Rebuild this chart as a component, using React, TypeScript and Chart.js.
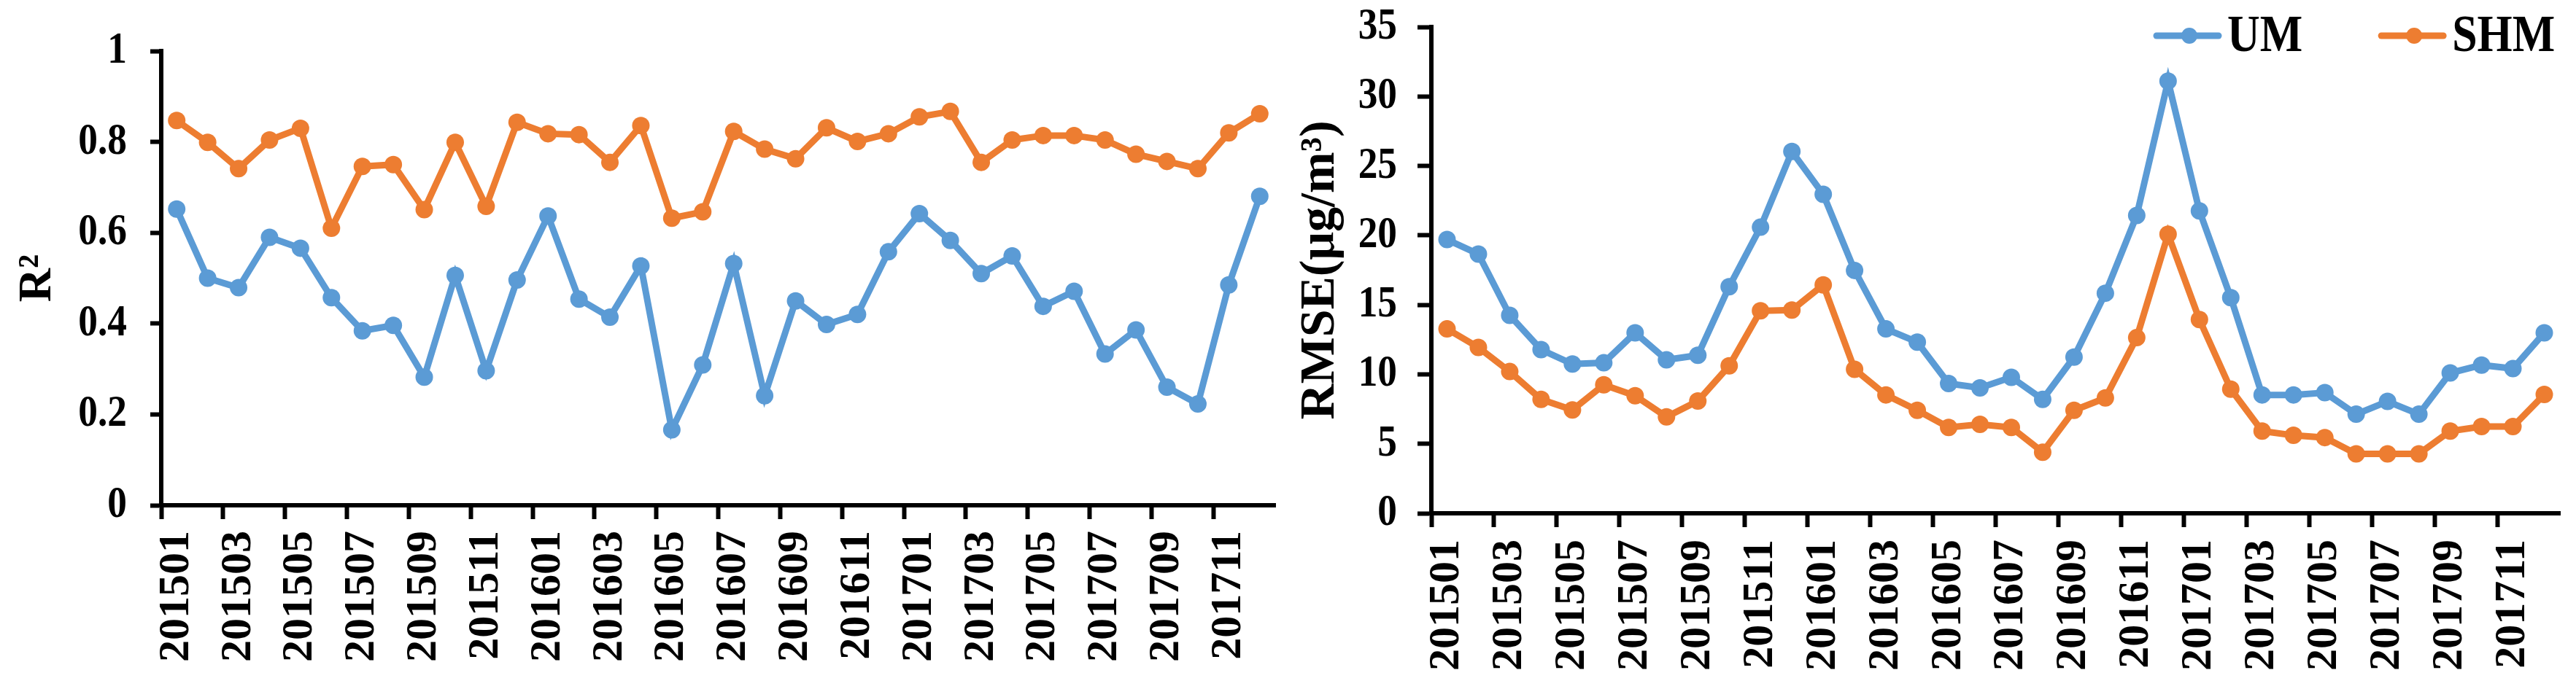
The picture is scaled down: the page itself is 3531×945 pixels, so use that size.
import React, { useEffect, useRef } from 'react';
import { Chart, registerables } from 'chart.js';

Chart.register(...registerables);

// ---------- data ----------
const months: string[] = [
  '201501', '201502', '201503', '201504', '201505', '201506',
  '201507', '201508', '201509', '201510', '201511', '201512',
  '201601', '201602', '201603', '201604', '201605', '201606',
  '201607', '201608', '201609', '201610', '201611', '201612',
  '201701', '201702', '201703', '201704', '201705', '201706',
  '201707', '201708', '201709', '201710', '201711', '201712',
];

const seriesNames: string[] = ['UM', 'SHM'];

const r2UM: number[] = [
  0.652, 0.5, 0.479, 0.59, 0.566, 0.457, 0.384, 0.396, 0.282, 0.506, 0.296, 0.496,
  0.637, 0.454, 0.414, 0.527, 0.166, 0.309, 0.532, 0.241, 0.45, 0.398, 0.42, 0.558,
  0.642, 0.583, 0.51, 0.549, 0.438, 0.471, 0.333, 0.386, 0.26, 0.223, 0.485, 0.68,
];
const r2SHM: number[] = [
  0.847, 0.799, 0.741, 0.804, 0.83, 0.61, 0.746, 0.75, 0.651, 0.799, 0.658, 0.843,
  0.818, 0.816, 0.755, 0.836, 0.632, 0.646, 0.823, 0.784, 0.763, 0.831, 0.801, 0.818,
  0.855, 0.867, 0.755, 0.804, 0.814, 0.814, 0.804, 0.773, 0.757, 0.741, 0.82, 0.862,
];

const rmseUM: number[] = [
  19.7, 18.66, 14.25, 11.78, 10.74, 10.83, 12.99, 11.05, 11.37, 16.31, 20.59, 26.04,
  22.96, 17.48, 13.27, 12.32, 9.34, 9.03, 9.79, 8.2, 11.24, 15.84, 21.44, 31.1,
  21.76, 15.52, 8.52, 8.52, 8.68, 7.13, 8.05, 7.13, 10.1, 10.67, 10.42, 12.99,
];
const rmseSHM: number[] = [
  13.27, 11.94, 10.2, 8.2, 7.44, 9.25, 8.46, 6.94, 8.08, 10.61, 14.57, 14.63,
  16.44, 10.36, 8.52, 7.41, 6.18, 6.4, 6.18, 4.4, 7.41, 8.3, 12.64, 20.08,
  13.94, 8.93, 5.92, 5.61, 5.45, 4.28, 4.28, 4.28, 5.92, 6.24, 6.24, 8.55,
];

// ---------- styling ----------
const FONT = '"Liberation Serif", "Times New Roman", serif';
const BLUE = '#5B9BD5';
const ORANGE = '#ED7D31';
const COLORS = [BLUE, ORANGE];
const SQUISH = 0.86; // narrow the horizontal (unrotated) text like the reference

// Horizontally condense unrotated text, keeping each text anchor fixed.
const condensePlugin = {
  id: 'condenseText',
  beforeDraw(chart: any) {
    const ctx = chart.ctx as any;
    if (ctx.__condensed) return;
    ctx.__condensed = true;
    const orig = ctx.fillText;
    ctx.fillText = function (text: string, x: number, y: number, maxWidth?: number) {
      const m = ctx.getTransform();
      if (Math.abs(m.b) < 1e-6 && Math.abs(m.c) < 1e-6) {
        const px = m.a * x + m.e;
        ctx.save();
        ctx.setTransform(m.a * SQUISH, 0, 0, m.d, SQUISH * m.e + px * (1 - SQUISH), m.f);
        if (maxWidth === undefined) orig.call(ctx, text, x, y);
        else orig.call(ctx, text, x, y, maxWidth);
        ctx.restore();
      } else if (maxWidth === undefined) {
        orig.call(ctx, text, x, y);
      } else {
        orig.call(ctx, text, x, y, maxWidth);
      }
    };
  },
};

const legendPlugin = {
  id: 'excelLegend',
  afterDraw(chart: any) {
    const { ctx, chartArea } = chart;
    ctx.save();
    ctx.font = `bold 72px ${FONT}`;
    ctx.textBaseline = 'middle';
    ctx.textAlign = 'left';
    let x = chartArea.right - 553;
    const y = chartArea.top + 12;
    chart.data.datasets.forEach((ds: any) => {
      const c = ds.borderColor;
      ctx.strokeStyle = c;
      ctx.lineWidth = 9;
      ctx.lineCap = 'round';
      ctx.beginPath();
      ctx.moveTo(x, y);
      ctx.lineTo(x + 85, y);
      ctx.stroke();
      ctx.fillStyle = c;
      ctx.beginPath();
      ctx.arc(x + 45, y, 11, 0, Math.PI * 2);
      ctx.fill();
      ctx.fillStyle = '#000';
      ctx.fillText(ds.label, x + 97, y + 2);
      x += 97 + ctx.measureText(ds.label).width * SQUISH + 108;
    });
    ctx.restore();
  },
};

function makeDatasets(a: number[], b: number[]) {
  return [a, b].map((d, i) => ({
    label: seriesNames[i],
    data: d,
    borderColor: COLORS[i],
    backgroundColor: COLORS[i],
    pointBackgroundColor: COLORS[i],
    pointBorderWidth: 0,
    pointRadius: 12,
    borderWidth: 9,
    tension: 0,
  }));
}

function makeOptions(p: {
  yMax: number;
  yStep: number;
  yTitle: string;
  titleSize: number;
  titlePad: number;
  yWidth: number;
  xHeight: number;
  padding: { top: number; right: number; left: number; bottom: number };
  yTickLen: number;
  yTickPad: number;
  xTickPad: number;
}) {
  const yFont = { family: FONT, size: 62, weight: 'bold' as const };
  const xFont = { family: FONT, size: 60, weight: 'bold' as const };
  return {
    animation: false as const,
    responsive: true,
    maintainAspectRatio: false,
    devicePixelRatio: 1,
    layout: { padding: p.padding },
    plugins: { legend: { display: false }, tooltip: { enabled: false } },
    scales: {
      x: {
        type: 'category' as const,
        offset: true,
        grid: {
          offset: true,
          drawOnChartArea: false,
          drawTicks: true,
          tickLength: 19,
          tickWidth: 6,
          tickColor: (c: any) => (c.index % 2 === 0 ? '#000' : 'rgba(0,0,0,0)'),
        },
        border: { display: true, color: '#000', width: 6 },
        ticks: {
          autoSkip: false,
          maxRotation: 90,
          minRotation: 90,
          padding: p.xTickPad,
          color: '#000',
          font: xFont,
          callback: (_v: any, i: number) => (i % 2 === 0 ? months[i] : ''),
        },
        afterFit: (s: any) => {
          s.height = p.xHeight;
          s.paddingLeft = 0;
          s.paddingRight = 0;
        },
      },
      y: {
        min: 0,
        max: p.yMax,
        ticks: {
          stepSize: p.yStep,
          padding: p.yTickPad,
          color: '#000',
          font: yFont,
          callback: (v: any) => String(Math.round(Number(v) * 100) / 100),
        },
        grid: { drawOnChartArea: false, tickLength: p.yTickLen, tickWidth: 6, tickColor: '#000' },
        border: { display: true, color: '#000', width: 6 },
        title: {
          display: true,
          text: p.yTitle,
          color: '#000',
          font: { family: FONT, size: p.titleSize, weight: 'bold' as const, lineHeight: 1 },
          padding: { top: p.titlePad, bottom: 0 },
        },
        afterFit: (s: any) => {
          s.width = p.yWidth;
          s.paddingTop = 0;
          s.paddingBottom = 0;
        },
      },
    },
  };
}

function ChartBox(props: { left: number; width: number; config: any }) {
  const ref = useRef<HTMLCanvasElement | null>(null);
  useEffect(() => {
    if (!ref.current) return;
    const chart = new Chart(ref.current, props.config);
    return () => chart.destroy();
  }, []);
  return (
    <div style={{ position: 'absolute', left: props.left, top: 0, width: props.width, height: 945 }}>
      <canvas ref={ref} />
    </div>
  );
}

const leftConfig = {
  type: 'line',
  data: { labels: months, datasets: makeDatasets(r2UM, r2SHM) },
  options: makeOptions({
    yMax: 1,
    yStep: 0.2,
    yTitle: 'R²',
    titleSize: 64,
    titlePad: 20,
    yWidth: 221,
    xHeight: 252,
    padding: { top: 70, right: 17, left: 0, bottom: 0 },
    yTickLen: 15,
    yTickPad: 32,
    xTickPad: 16,
  }),
  plugins: [condensePlugin],
};

const rightConfig = {
  type: 'line',
  data: { labels: months, datasets: makeDatasets(rmseUM, rmseSHM) },
  options: makeOptions({
    yMax: 35,
    yStep: 5,
    yTitle: 'RMSE(μg/m³)',
    titleSize: 68,
    titlePad: 11,
    yWidth: 197,
    xHeight: 241,
    padding: { top: 37, right: 22, left: 0, bottom: 0 },
    yTickLen: 19,
    yTickPad: 28,
    xTickPad: 17,
  }),
  plugins: [condensePlugin, legendPlugin],
};

export default function App() {
  return (
    <div style={{ position: 'absolute', left: 0, top: 0, width: 3531, height: 945, background: '#fff' }}>
      <ChartBox left={0} width={1765} config={leftConfig} />
      <ChartBox left={1765} width={1766} config={rightConfig} />
    </div>
  );
}
